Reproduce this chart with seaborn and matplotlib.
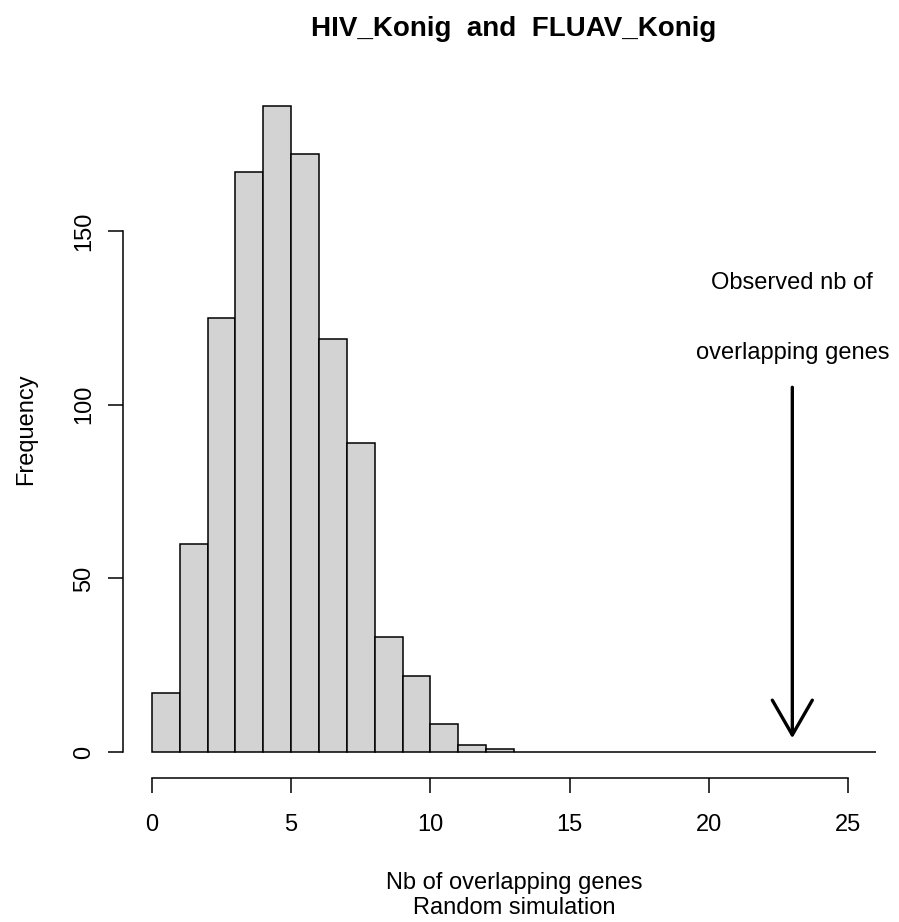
import matplotlib
matplotlib.use("Agg")
import matplotlib.pyplot as plt
import seaborn as sns
import numpy as np

# histogram of random simulation: counts per unit-wide bin, 0..26
bin_edges = list(range(0, 27))
counts = [17, 60, 125, 167, 186, 172, 119, 89, 33, 22, 8, 2, 1,
          0, 0, 0, 0, 0, 0, 0, 0, 0, 0, 0, 0, 0]
x_ticks = [0, 5, 10, 15, 20, 25]
y_ticks = [0, 50, 100, 150]

observed = 23
arrow_top = 105
arrow_tip = 4
note_lines = ["Observed nb of", "overlapping genes"]
note_y = [135, 115]

title = "HIV_Konig  and  FLUAV_Konig"

sns.set_style("white")
plt.rcParams["font.family"] = ["Liberation Sans", "DejaVu Sans"]
plt.rcParams["text.color"] = "black"
plt.rcParams["axes.labelcolor"] = "black"
plt.rcParams["xtick.color"] = "black"
plt.rcParams["ytick.color"] = "black"

fig = plt.figure(figsize=(8.99, 9.22), dpi=100)
W, H = 899, 922
ax = fig.add_axes([123 / W, (H - 778) / H, (904.8 - 123) / W, (778 - 80) / H])

mids = [e + 0.5 for e in bin_edges[:-1]]
sns.histplot(x=mids, weights=counts, bins=bin_edges, stat="count",
             color="#d3d3d3", edgecolor="black", linewidth=1.1, alpha=1,
             ax=ax)

ax.set_xlim(-1.04, 27.04)
ax.set_ylim(-7.44, 193.44)

for s in ["top", "right"]:
    ax.spines[s].set_visible(False)
ax.spines["bottom"].set_bounds(0, 25)
ax.spines["left"].set_bounds(0, 150)
for s in ["bottom", "left"]:
    ax.spines[s].set_color("black")
    ax.spines[s].set_linewidth(1.1)

ax.set_xticks(x_ticks)
ax.set_yticks(y_ticks)
ax.tick_params(axis="both", direction="out", length=11, width=1.1,
               labelsize=17, bottom=True, left=True)
ax.tick_params(axis="x", pad=15)
ax.tick_params(axis="y", pad=9)
plt.setp(ax.get_yticklabels(), rotation=90, va="center")

ax.set_xlabel("Nb of overlapping genes\nRandom simulation", fontsize=17,
              linespacing=1.18, labelpad=26)
ax.set_ylabel("Frequency", fontsize=17, labelpad=26)
ax.set_title(title, fontsize=20, fontweight="bold", pad=32)

ax.annotate("", xy=(observed, arrow_tip), xytext=(observed, arrow_top),
            arrowprops=dict(arrowstyle="->,head_length=25,head_width=14.4",
                            mutation_scale=1, lw=2.4, color="black",
                            shrinkA=0, shrinkB=0))
for txt, yy in zip(note_lines, note_y):
    ax.text(observed, yy, txt, ha="center", va="center", fontsize=17)

fig.savefig("out.png", dpi=100)
